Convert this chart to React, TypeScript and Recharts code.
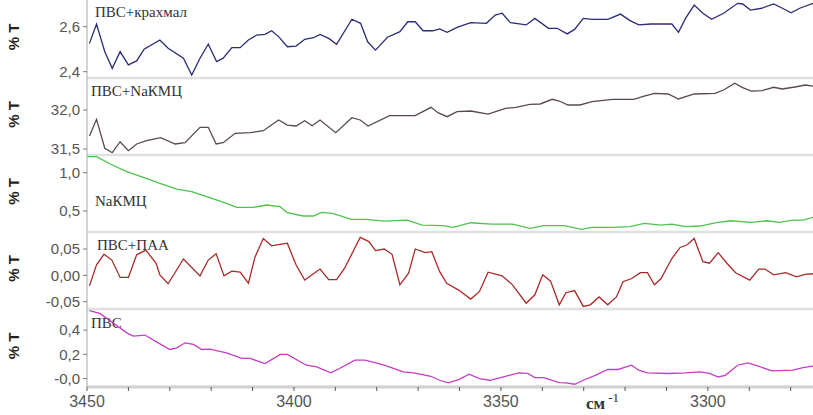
import React from 'react';
import { LineChart, Line, XAxis, YAxis, ReferenceLine, Customized } from 'recharts';

// Wavenumber axis (cm^-1), reversed
const X_DOMAIN: [number, number] = [3274.6, 3450];
const xTicks = [3280, 3290, 3300, 3310, 3320, 3330, 3340, 3350, 3360, 3370, 3380, 3390, 3400, 3410, 3420, 3430, 3440, 3450];
const xMajorTicks = [3300, 3350, 3400, 3450];
const xMajorLabels = ['3300', '3350', '3400', '3450'];

const seriesNames = ['ПВС+крахмал', 'ПВС+NaКМЦ', 'NaКМЦ', 'ПВС+ПАА', 'ПВС'];

// [wavenumber, %T]
const pvaStarch: [number, number][] = [
  [3449.4, 2.526], [3447.7, 2.612], [3445.7, 2.489], [3443.9, 2.415], [3442.0, 2.489], [3440.0, 2.430],
  [3438.0, 2.448], [3436.2, 2.500], [3432.4, 2.541], [3430.4, 2.504], [3426.7, 2.460], [3424.7, 2.385],
  [3422.7, 2.460], [3420.7, 2.523], [3418.7, 2.445], [3417.1, 2.460], [3415.0, 2.507], [3413.0, 2.507],
  [3411.0, 2.541], [3409.0, 2.563], [3407.0, 2.566], [3405.4, 2.582], [3403.7, 2.556], [3401.6, 2.511],
  [3399.5, 2.514], [3397.4, 2.544], [3395.3, 2.551], [3393.7, 2.566], [3391.6, 2.548], [3389.7, 2.522],
  [3386.0, 2.633], [3383.9, 2.615], [3382.2, 2.533], [3380.3, 2.496], [3377.4, 2.553], [3374.4, 2.578],
  [3372.5, 2.622], [3370.7, 2.622], [3368.8, 2.582], [3366.5, 2.582], [3364.8, 2.590], [3363.0, 2.575],
  [3360.6, 2.597], [3357.3, 2.618], [3353.5, 2.615], [3351.4, 2.652], [3349.7, 2.660], [3347.7, 2.618],
  [3343.9, 2.608], [3341.8, 2.637], [3338.5, 2.593], [3336.4, 2.593], [3334.0, 2.568], [3332.2, 2.588],
  [3330.1, 2.637], [3328.0, 2.633], [3324.2, 2.633], [3321.1, 2.656], [3318.8, 2.627], [3316.7, 2.608],
  [3313.8, 2.612], [3308.7, 2.612], [3307.1, 2.575], [3305.4, 2.637], [3303.3, 2.696], [3301.2, 2.660],
  [3299.1, 2.633], [3296.2, 2.660], [3292.8, 2.704], [3291.6, 2.701], [3289.7, 2.674], [3287.0, 2.682],
  [3284.1, 2.701], [3282.0, 2.682], [3279.9, 2.662], [3277.8, 2.682], [3274.6, 2.704],
];

const pvaCmc: [number, number][] = [
  [3449.4, 31.666], [3447.7, 31.880], [3445.7, 31.509], [3443.9, 31.452], [3442.0, 31.593], [3440.0, 31.478],
  [3438.0, 31.564], [3435.6, 31.606], [3432.2, 31.645], [3428.7, 31.564], [3426.3, 31.581], [3422.7, 31.778],
  [3420.7, 31.778], [3418.8, 31.564], [3417.1, 31.581], [3414.2, 31.701], [3410.6, 31.709], [3407.4, 31.734],
  [3403.7, 31.872], [3401.6, 31.807], [3399.5, 31.795], [3397.4, 31.863], [3395.6, 31.798], [3393.7, 31.872],
  [3389.9, 31.709], [3386.0, 31.901], [3384.0, 31.872], [3382.1, 31.795], [3376.9, 31.927], [3370.7, 31.927],
  [3366.9, 32.034], [3365.2, 31.965], [3363.0, 31.914], [3360.6, 31.978], [3357.3, 31.987], [3353.1, 31.948],
  [3348.9, 32.022], [3346.4, 32.034], [3343.0, 32.073], [3340.5, 32.077], [3337.6, 32.137], [3335.9, 32.115],
  [3333.8, 32.064], [3330.9, 32.064], [3328.0, 32.106], [3323.0, 32.137], [3317.9, 32.137], [3315.4, 32.179],
  [3312.9, 32.214], [3309.6, 32.205], [3307.1, 32.141], [3303.3, 32.205], [3298.3, 32.214], [3296.2, 32.256],
  [3293.5, 32.342], [3291.6, 32.286], [3289.5, 32.243], [3287.0, 32.247], [3284.1, 32.291], [3282.0, 32.269],
  [3278.6, 32.298], [3276.5, 32.320], [3274.6, 32.307],
];

const cmc: [number, number][] = [
  [3449.9, 1.209], [3447.7, 1.209], [3444.4, 1.114], [3440.4, 1.013], [3436.4, 0.940], [3432.4, 0.862],
  [3428.3, 0.787], [3424.7, 0.752], [3421.1, 0.687], [3417.5, 0.621], [3413.8, 0.548], [3409.8, 0.548],
  [3406.6, 0.578], [3403.4, 0.556], [3401.6, 0.478], [3397.8, 0.435], [3395.3, 0.435], [3393.3, 0.483],
  [3390.7, 0.470], [3386.1, 0.392], [3382.4, 0.392], [3378.2, 0.369], [3372.7, 0.382], [3369.0, 0.317],
  [3364.0, 0.308], [3361.5, 0.287], [3357.3, 0.347], [3352.3, 0.330], [3347.2, 0.330], [3343.0, 0.274],
  [3339.7, 0.308], [3334.7, 0.308], [3330.5, 0.261], [3328.0, 0.287], [3323.0, 0.287], [3318.8, 0.295],
  [3315.4, 0.339], [3311.3, 0.317], [3308.7, 0.330], [3305.4, 0.295], [3302.0, 0.304], [3297.9, 0.347],
  [3294.5, 0.373], [3289.5, 0.352], [3285.7, 0.373], [3282.8, 0.352], [3279.5, 0.382], [3277.0, 0.382],
  [3274.6, 0.418],
];

const pvaPaa: [number, number][] = [
  [3449.4, -0.020], [3447.7, 0.020], [3445.9, 0.040], [3444.0, 0.029], [3442.0, -0.004], [3440.0, -0.004],
  [3438.0, 0.039], [3435.8, 0.048], [3433.3, 0.023], [3432.4, 0.001], [3430.4, -0.016], [3426.7, 0.031],
  [3422.7, -0.001], [3420.7, 0.029], [3418.8, 0.041], [3416.9, -0.001], [3415.0, 0.008], [3413.0, 0.006],
  [3411.0, -0.015], [3409.4, 0.035], [3407.4, 0.070], [3405.4, 0.056], [3403.4, 0.059], [3401.6, 0.061],
  [3399.5, 0.020], [3397.4, -0.009], [3393.7, 0.012], [3391.6, -0.008], [3389.7, -0.008], [3387.8, 0.013],
  [3384.0, 0.072], [3381.9, 0.064], [3380.3, 0.047], [3378.2, 0.050], [3376.3, 0.040], [3374.4, -0.018],
  [3372.3, 0.004], [3370.7, 0.050], [3368.3, 0.043], [3366.7, 0.045], [3364.8, 0.007], [3363.1, -0.015],
  [3360.2, -0.028], [3357.3, -0.045], [3355.2, -0.031], [3353.1, 0.006], [3349.7, -0.001], [3347.2, -0.018],
  [3343.9, -0.053], [3341.8, -0.037], [3339.9, 0.001], [3338.0, -0.011], [3335.9, -0.056], [3334.3, -0.033],
  [3332.2, -0.029], [3330.1, -0.059], [3328.4, -0.056], [3326.3, -0.041], [3324.2, -0.056], [3322.1, -0.041],
  [3320.5, -0.012], [3318.4, -0.006], [3316.3, 0.005], [3314.6, 0.005], [3312.9, -0.018], [3311.3, -0.006],
  [3308.7, 0.032], [3306.7, 0.053], [3305.0, 0.058], [3303.3, 0.070], [3301.2, 0.026], [3299.6, 0.023],
  [3297.5, 0.043], [3295.4, 0.023], [3293.3, 0.005], [3289.9, -0.009], [3287.7, 0.012], [3286.2, 0.012],
  [3284.1, 0.001], [3281.2, 0.005], [3278.6, -0.003], [3276.5, 0.002], [3274.6, 0.003],
];

const pva: [number, number][] = [
  [3449.4, 0.560], [3446.9, 0.538], [3440.2, 0.373], [3438.8, 0.350], [3436.0, 0.359], [3433.2, 0.303],
  [3430.0, 0.240], [3428.3, 0.254], [3426.3, 0.295], [3424.3, 0.282], [3422.3, 0.240], [3420.3, 0.243],
  [3416.3, 0.212], [3412.6, 0.166], [3410.6, 0.166], [3407.0, 0.124], [3403.3, 0.199], [3401.6, 0.199],
  [3397.0, 0.110], [3394.5, 0.096], [3391.1, 0.047], [3389.0, 0.083], [3385.3, 0.152], [3382.8, 0.152],
  [3378.2, 0.110], [3373.6, 0.055], [3371.1, 0.047], [3366.9, 0.019], [3364.8, -0.014], [3362.7, -0.036],
  [3360.2, -0.008], [3357.7, 0.036], [3355.2, 0.000], [3352.7, -0.014], [3348.9, 0.019], [3345.6, 0.047],
  [3343.5, 0.042], [3341.8, 0.008], [3339.7, 0.008], [3335.9, -0.033], [3334.3, -0.036], [3332.2, -0.047],
  [3330.1, -0.014], [3327.2, 0.027], [3324.2, 0.075], [3321.7, 0.075], [3318.4, 0.110], [3316.7, 0.069],
  [3314.6, 0.047], [3309.6, 0.042], [3305.4, 0.047], [3302.0, 0.055], [3299.6, 0.042], [3297.5, 0.013],
  [3295.8, 0.027], [3292.8, 0.110], [3290.4, 0.129], [3287.8, 0.102], [3284.5, 0.063], [3279.5, 0.069],
  [3277.0, 0.091], [3274.6, 0.102],
];

// Y axis ticks / labels per panel
const yTicks1 = [2.4, 2.6];
const yLabels1 = ['2,4', '2,6'];
const yTicks2 = [31.5, 32.0];
const yLabels2 = ['31,5', '32,0'];
const yTicks3 = [0.5, 1.0];
const yLabels3 = ['0,5', '1,0'];
const yTicks4 = [-0.05, 0, 0.05];
const yLabels4 = ['-0,05', '0,00', '0,05'];
const yTicks5 = [0, 0.2, 0.4];
const yLabels5 = ['-0,0', '0,2', '0,4'];

const yDomains: [number, number][] = [
  [2.372, 2.7187],
  [31.423, 32.41],
  [0.226, 1.231],
  [-0.0639, 0.0823],
  [-0.0696, 0.574],
];

const colors = ['#2b2b78', '#5a4850', '#4cc44c', '#a82a2a', '#c23ec2'];

type Panel = {
  name: string;
  series: [number, number][];
  ticks: number[];
  labels: string[];
  top: number;
  plotH: number;
  lx: number;
  ly: number;
  bg: boolean;
};

const panels: Panel[] = [
  { name: seriesNames[0], series: pvaStarch, ticks: yTicks1, labels: yLabels1, top: 0, plotH: 78, lx: 95, ly: 17, bg: false },
  { name: seriesNames[1], series: pvaCmc, ticks: yTicks2, labels: yLabels2, top: 78, plotH: 77, lx: 91, ly: 18, bg: false },
  { name: seriesNames[2], series: cmc, ticks: yTicks3, labels: yLabels3, top: 155, plotH: 77, lx: 95, ly: 51, bg: false },
  { name: seriesNames[3], series: pvaPaa, ticks: yTicks4, labels: yLabels4, top: 232, plotH: 77, lx: 97, ly: 18, bg: true },
  { name: seriesNames[4], series: pva, ticks: yTicks5, labels: yLabels5, top: 309, plotH: 78, lx: 91, ly: 19, bg: true },
];

const PAD = 10;
const AXIS_FONT = 'Liberation Sans, Arial, sans-serif';
const SERIF = 'Liberation Serif, Times New Roman, serif';

export default function App() {
  return (
    <div style={{ position: 'absolute', left: 0, top: 0, width: 813, height: 415, background: '#fff', overflow: 'hidden' }}>
      {panels.map((p, i) => {
        const last = i === panels.length - 1;
        const chartTop = p.top - PAD;
        const height = last ? 415 - chartTop : p.plotH + 2 * PAD;
        const data = p.series.map(([x, y]) => ({ x, y }));
        const fmt = (v: number) => {
          const k = p.ticks.indexOf(v);
          return k >= 0 ? p.labels[k] : '';
        };
        return (
          <div key={p.name} style={{ position: 'absolute', left: 0, top: chartTop, width: 813, height }}>
            <LineChart
              width={813}
              height={height}
              data={data}
              margin={{ top: PAD, right: 0, bottom: last ? 0 : PAD, left: 0 }}
            >
              {last ? (
                <XAxis
                  dataKey="x"
                  type="number"
                  domain={X_DOMAIN}
                  reversed
                  allowDataOverflow
                  ticks={xTicks}
                  interval={0}
                  height={height - PAD - p.plotH}
                  tickSize={4}
                  tickMargin={5}
                  axisLine={{ stroke: '#d0d0d0', strokeWidth: 3 }}
                  tickLine={{ stroke: '#555' }}
                  tick={{ fill: '#555', fontSize: 16, fontFamily: AXIS_FONT }}
                  tickFormatter={(v: number) => {
                    const k = xMajorTicks.indexOf(v);
                    return k >= 0 ? xMajorLabels[k] : '';
                  }}
                />
              ) : (
                <XAxis dataKey="x" type="number" domain={X_DOMAIN} reversed allowDataOverflow hide />
              )}
              <YAxis
                type="number"
                domain={yDomains[i]}
                allowDataOverflow
                ticks={p.ticks}
                interval={0}
                width={87}
                tickSize={4}
                tickMargin={3}
                axisLine={{ stroke: '#a8a8a8' }}
                tickLine={{ stroke: '#777' }}
                tick={{ fill: '#555', fontSize: 15, fontFamily: AXIS_FONT }}
                tickFormatter={fmt}
              />
              {!last && (
                <ReferenceLine y={yDomains[i][0]} stroke="#e0e0e0" strokeWidth={2.5} />
              )}
              <Line
                type="linear"
                dataKey="y"
                stroke={colors[i]}
                strokeWidth={1.3}
                dot={false}
                isAnimationActive={false}
              />
              <Customized
                component={() => (
                  <g>
                    {p.bg && (
                      <rect x={p.lx - 2} y={PAD + p.ly - 13} width={p.name.length * 10} height={16} fill="#fff" />
                    )}
                    <text x={p.lx} y={PAD + p.ly} fontFamily={SERIF} fontSize={15} fill="#333">
                      {p.name}
                    </text>
                    <text
                      transform={`translate(13, ${PAD + p.plotH / 2 - 2}) rotate(-90)`}
                      textAnchor="middle"
                      dominantBaseline="central"
                      fontFamily={AXIS_FONT}
                      fontWeight="bold"
                      fontSize={15}
                      fill="#222"
                    >
                      % T
                    </text>
                    {last && (
                      <text x={586} y={PAD + 100} fontFamily={SERIF} fontWeight="bold" fontSize={17} fill="#333">
                        см
                        <tspan dx={3} dy={-7} fontSize={13} fontWeight="normal">-1</tspan>
                      </text>
                    )}
                  </g>
                )}
              />
            </LineChart>
          </div>
        );
      })}
    </div>
  );
}
